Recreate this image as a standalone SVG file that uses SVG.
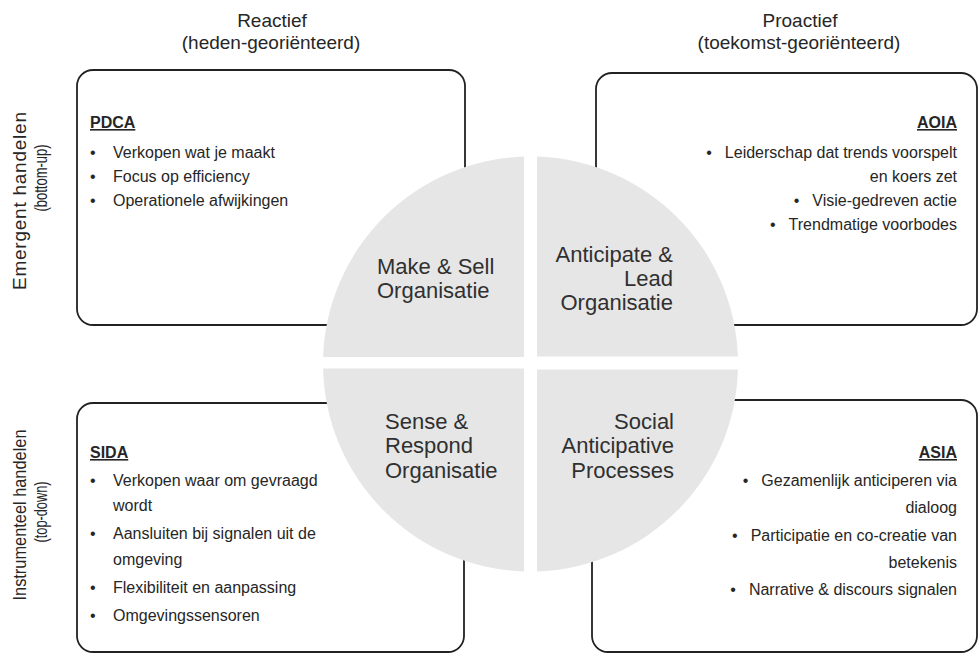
<svg xmlns="http://www.w3.org/2000/svg" width="979" height="654" viewBox="0 0 979 654">
  <style>
    text { font-family: "Liberation Sans", Arial, sans-serif; fill: #262626; }
    .hdr { font-size: 19px; text-anchor: middle; }
    .side { font-size: 19px; text-anchor: middle; }
    .box { fill: #ffffff; stroke: #222222; stroke-width: 1.8; }
    .quad { fill: #e6e6e6; }
    .qt { font-size: 22px; fill: #303030; }
    .bt { font-size: 16px; }
    .ttl { font-size: 16px; font-weight: bold; text-decoration: underline; }
    .r { text-anchor: end; }
  </style>

  <!-- column headers -->
  <g id="header-reactief">
    <text class="hdr" x="272" y="27">Reactief</text>
    <text class="hdr" x="271" y="49">(heden-georiënteerd)</text>
  </g>
  <g id="header-proactief">
    <text class="hdr" x="800" y="27">Proactief</text>
    <text class="hdr" x="799" y="49">(toekomst-georiënteerd)</text>
  </g>

  <!-- row labels -->
  <g id="label-emergent">
    <text class="side" transform="translate(26,201) rotate(-90)" textLength="178" lengthAdjust="spacing">Emergent handelen</text>
    <text class="side" transform="translate(47,178) rotate(-90)" textLength="67" lengthAdjust="spacingAndGlyphs">(bottom-up)</text>
  </g>
  <g id="label-instrumenteel">
    <text class="side" transform="translate(26,515) rotate(-90)" textLength="171" lengthAdjust="spacingAndGlyphs">Instrumenteel handelen</text>
    <text class="side" transform="translate(47,512) rotate(-90)" textLength="61" lengthAdjust="spacingAndGlyphs">(top-down)</text>
  </g>

  <!-- corner boxes -->
  <g id="box-pdca">
    <rect class="box" x="77" y="70" width="388" height="255" rx="16"/>
    <text class="ttl" x="90" y="128">PDCA</text>
    <text class="bt" x="90" y="158">•</text><text class="bt" x="113" y="158">Verkopen wat je maakt</text>
    <text class="bt" x="90" y="182">•</text><text class="bt" x="113" y="182">Focus op efficiency</text>
    <text class="bt" x="90" y="206">•</text><text class="bt" x="113" y="206">Operationele afwijkingen</text>
  </g>

  <g id="box-aoia">
    <rect class="box" x="596" y="73" width="381" height="252" rx="16"/>
    <text class="ttl r" x="957" y="128">AOIA</text>
    <text class="bt r" x="957" y="158"><tspan>•</tspan><tspan dx="13">Leiderschap dat trends voorspelt</tspan></text>
    <text class="bt r" x="957" y="182">en koers zet</text>
    <text class="bt r" x="957" y="206"><tspan>•</tspan><tspan dx="13">Visie-gedreven actie</tspan></text>
    <text class="bt r" x="957" y="230"><tspan>•</tspan><tspan dx="13">Trendmatige voorbodes</tspan></text>
  </g>

  <g id="box-sida">
    <rect class="box" x="77" y="403" width="387" height="249" rx="16"/>
    <text class="ttl" x="90" y="458">SIDA</text>
    <text class="bt" x="90" y="486">•</text><text class="bt" x="113" y="486">Verkopen waar om gevraagd</text>
    <text class="bt" x="113" y="511">wordt</text>
    <text class="bt" x="90" y="539">•</text><text class="bt" x="113" y="539">Aansluiten bij signalen uit de</text>
    <text class="bt" x="113" y="565">omgeving</text>
    <text class="bt" x="90" y="593">•</text><text class="bt" x="113" y="593">Flexibiliteit en aanpassing</text>
    <text class="bt" x="90" y="621">•</text><text class="bt" x="113" y="621">Omgevingssensoren</text>
  </g>

  <g id="box-asia">
    <rect class="box" x="592" y="400" width="385" height="252" rx="16"/>
    <text class="ttl r" x="957" y="458">ASIA</text>
    <text class="bt r" x="957" y="486"><tspan>•</tspan><tspan dx="13">Gezamenlijk anticiperen via</tspan></text>
    <text class="bt r" x="957" y="513">dialoog</text>
    <text class="bt r" x="957" y="541"><tspan>•</tspan><tspan dx="13">Participatie en co-creatie van</tspan></text>
    <text class="bt r" x="957" y="568">betekenis</text>
    <text class="bt r" x="957" y="595"><tspan>•</tspan><tspan dx="13">Narrative &amp; discours signalen</tspan></text>
  </g>

  <!-- central disc split into four quadrants -->
  <g id="quad-make-sell">
    <path class="quad" d="M524,357 L524,156.6 A207.5,207.5 0 0 0 323.1,357 Z"/>
    <text class="qt" x="377" y="274">Make &amp; Sell</text>
    <text class="qt" x="377" y="298">Organisatie</text>
  </g>
  <g id="quad-anticipate-lead">
    <path class="quad" d="M537,356.5 L537,156.6 A207.5,207.5 0 0 1 737.9,356.5 Z"/>
    <text class="qt r" x="673" y="262">Anticipate &amp;</text>
    <text class="qt r" x="673" y="286">Lead</text>
    <text class="qt r" x="673" y="310">Organisatie</text>
  </g>
  <g id="quad-sense-respond">
    <path class="quad" d="M524,368.5 L323.1,368.5 A207.5,207.5 0 0 0 524,571.4 Z"/>
    <text class="qt" x="385" y="429">Sense &amp;</text>
    <text class="qt" x="385" y="453">Respond</text>
    <text class="qt" x="385" y="478">Organisatie</text>
  </g>
  <g id="quad-social">
    <path class="quad" d="M537,369.5 L737.9,369.5 A207.5,207.5 0 0 1 537,571.4 Z"/>
    <text class="qt r" x="674" y="429">Social</text>
    <text class="qt r" x="674" y="453">Anticipative</text>
    <text class="qt r" x="674" y="478">Processes</text>
  </g>

  <g id="connectors"/>
</svg>
